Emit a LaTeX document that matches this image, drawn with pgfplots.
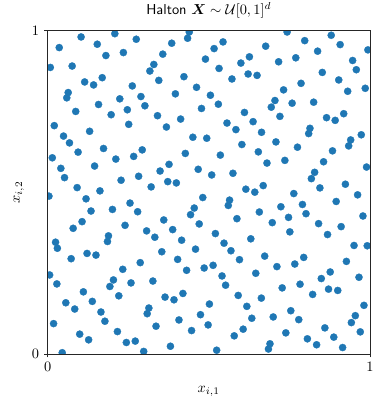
\documentclass[border=0pt]{standalone}
\usepackage{pgfplots}
\pgfplotsset{compat=1.18}
\usepackage{bm}
\definecolor{mplblue}{HTML}{1F77B4}

\begin{document}
\begin{tikzpicture}
\begin{axis}[
  scale only axis,
  width=224pt, height=224.7pt,
  xmin=0, xmax=1, ymin=0, ymax=1,
  xtick={0,1}, ytick={0,1},
  xtick pos=left, ytick pos=left,
  tick align=outside,
  major tick length=2.4pt,
  axis line style={line width=0.55pt, black!85},
  tick style={line width=0.55pt, black!85},
  axis on top,
  clip marker paths=true,
  title={\textsf{Halton} $\bm{X}\sim\mathcal{U}[0,1]^d$},
  title style={at={(axis description cs:0.5,1.024)}, anchor=base, inner sep=0pt},
  xlabel={$x_{i,1}$},
  xlabel style={at={(axis description cs:0.5,-0.119)}, anchor=base, inner sep=0pt},
  ylabel={$x_{i,2}$},
  ylabel style={at={(axis description cs:-0.086,0.5)}, anchor=base, inner sep=0pt},
]
\addplot[only marks, mark=*, mark size=2.5pt,
         mark options={fill=mplblue, draw=mplblue, line width=0.2pt}]
  table {
x y
0.1038 0.9807
0.2085 0.9908
0.2750 0.9736
0.0360 0.9478
0.1540 0.9582
0.1808 0.9232
0.2350 0.9324
0.0083 0.8864
0.0761 0.8907
0.3295 0.8956
0.3172 0.8753
0.1694 0.8547
0.1149 0.8415
0.1426 0.8323
0.2627 0.8292
0.0638 0.8087
0.0594 0.7924
0.2895 0.7964
0.2239 0.7893
0.1580 0.7718
0.3018 0.7678
0.0872 0.7503
0.2473 0.7555
0.1971 0.7402
0.0206 0.7064
0.2516 0.7104
0.1303 0.6889
0.0493 0.6741
0.4395 0.9960
0.4343 0.9767
0.3850 0.9613
0.5442 0.9653
0.5165 0.9447
0.3573 0.9275
0.4897 0.9122
0.5996 0.8999
0.6261 0.9192
0.5319 0.8833
0.3449 0.8464
0.4229 0.8578
0.5719 0.8507
0.6221 0.8661
0.6498 0.8618
0.4620 0.8249
0.3964 0.8047
0.5051 0.8004
0.5297 0.7727
0.4774 0.7595
0.3409 0.7371
0.4127 0.7267
0.6107 0.7472
0.3686 0.7021
0.5565 0.7144
0.6375 0.7187
0.5842 0.6941
0.4506 0.6705
0.4937 0.6674
0.7431 0.9960
0.6766 0.9521
0.7977 0.9693
0.8799 0.9859
0.9076 0.9570
0.8377 0.9367
0.9938 0.9407
0.7167 0.9039
0.7700 0.9162
0.9464 0.9079
0.9578 0.8793
0.8522 0.8710
0.9033 0.8477
0.7863 0.8372
0.9855 0.8219
0.9310 0.8127
0.7321 0.8170
0.7053 0.7841
0.6939 0.7635
0.7586 0.7758
0.8254 0.7789
0.7207 0.7350
0.9187 0.7433
0.8654 0.7310
0.8922 0.7227
0.8140 0.6981
0.8100 0.6818
0.6637 0.6858
0.9732 0.6781
0.0678 0.6530
0.0945 0.6244
0.1734 0.6357
0.0145 0.6069
0.2116 0.6029
0.2670 0.6112
0.2935 0.6314
0.1457 0.5814
0.0410 0.5743
0.0524 0.5455
0.2279 0.5375
0.2824 0.5498
0.3212 0.5169
0.0915 0.5147
0.1623 0.5046
0.0040 0.4883
0.1192 0.4800
0.2556 0.4668
0.1346 0.4423
0.2011 0.4472
0.2793 0.4401
0.1069 0.4094
0.0792 0.3888
0.2402 0.3980
0.3071 0.3808
0.3326 0.3612
0.1888 0.3655
0.1857 0.3480
0.0246 0.3458
0.6027 0.6480
0.6538 0.6253
0.4272 0.6204
0.5359 0.6152
0.3767 0.5866
0.3489 0.5660
0.4672 0.5713
0.5091 0.5538
0.5750 0.5590
0.3727 0.5332
0.3994 0.5292
0.6150 0.5098
0.6428 0.5006
0.6689 0.5209
0.4814 0.4840
0.5645 0.4760
0.5605 0.4595
0.4549 0.4515
0.4435 0.4309
0.6569 0.4392
0.3603 0.4146
0.4703 0.4023
0.5873 0.4186
0.3880 0.3848
0.5205 0.3725
0.4158 0.3520
0.5473 0.3428
0.6304 0.3563
0.7084 0.6560
0.9403 0.6622
0.9341 0.6437
0.7752 0.6397
0.8839 0.6284
0.6806 0.5906
0.7361 0.5989
0.8562 0.5946
0.9895 0.5783
0.8285 0.5620
0.8183 0.5424
0.8448 0.5138
0.9239 0.5252
0.7638 0.4963
0.9618 0.4923
0.8953 0.4718
0.7906 0.4625
0.7237 0.4555
0.8017 0.4340
0.7475 0.4226
0.9784 0.4269
0.6970 0.4063
0.8408 0.4033
0.9107 0.3940
0.7515 0.3778
0.8685 0.3695
0.9507 0.3357
0.9917 0.3348
0.0302 0.3271
0.1223 0.3111
0.1500 0.3059
0.0730 0.2948
0.0062 0.2445
0.2331 0.2620
0.2873 0.2826
0.0286 0.2168
0.2042 0.2291
0.1931 0.2088
0.2587 0.2199
0.3265 0.2257
0.1109 0.1923
0.2208 0.1800
0.0564 0.1585
0.1386 0.1628
0.0841 0.1391
0.1654 0.1299
0.3141 0.1422
0.3089 0.1247
0.1777 0.1014
0.0185 0.0940
0.2165 0.0694
0.0995 0.0614
0.1272 0.0439
0.2442 0.0356
0.2719 0.0399
0.0453 0.0040
0.2981 0.0080
0.3542 0.3163
0.4589 0.3243
0.5688 0.3194
0.4034 0.2927
0.5953 0.2918
0.6735 0.3028
0.4312 0.2589
0.4857 0.2660
0.5134 0.2743
0.5411 0.2414
0.6458 0.2497
0.5522 0.2128
0.3643 0.1760
0.3921 0.1677
0.4198 0.1873
0.5913 0.1812
0.6631 0.1729
0.5020 0.1545
0.6181 0.1474
0.4743 0.1216
0.4075 0.1053
0.6335 0.1106
0.3363 0.0860
0.4980 0.0900
0.4466 0.0725
0.6067 0.0768
0.5790 0.0562
0.3810 0.0240
0.5245 0.0117
0.7946 0.2988
0.7669 0.2783
0.7114 0.2703
0.9270 0.2865
0.8768 0.2537
0.8491 0.2334
0.9661 0.2374
0.7278 0.2045
0.7832 0.2159
0.8716 0.2006
0.9002 0.1966
0.8223 0.1843
0.9815 0.1505
0.7545 0.1339
0.7000 0.1146
0.7792 0.1063
0.9547 0.1186
0.9424 0.0971
0.8602 0.0808
0.7391 0.0654
0.9701 0.0685
0.8879 0.0522
0.8060 0.0470
0.6899 0.0316
0.6852 0.0154
0.8346 0.0286
0.9153 0.0200
};
% corners of the page around the axis, with room for the title and the "1" tick label
\coordinate (pageBL) at (rel axis cs:-0.1478,-0.1330);
\coordinate (pageTR) at (rel axis cs:1.0130,1.0950);
\end{axis}
\pgfresetboundingbox
\path[use as bounding box] (pageBL) rectangle (pageTR);
\end{tikzpicture}
\end{document}
